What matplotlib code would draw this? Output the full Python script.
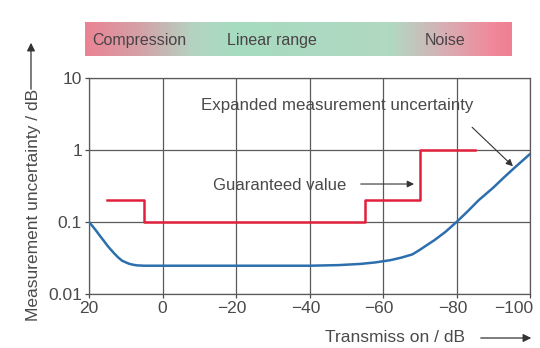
import numpy as np
import matplotlib
matplotlib.use("Agg")
import matplotlib.pyplot as plt
from matplotlib.colors import LinearSegmentedColormap
from matplotlib.transforms import ScaledTranslation

plt.rcParams['font.family'] = ['Liberation Sans', 'DejaVu Sans']

# expanded measurement uncertainty (blue)
trans_db = [20, 19, 18, 17, 16, 15, 14, 13, 12, 11, 10, 9, 8, 7, 5, 0, -20, -40, -48,
            -54, -58, -62, -65, -68, -70, -72, -74, -77, -80, -83, -86, -90, -93, -96, -100]
uncert_db = [0.1, 0.087, 0.075, 0.064, 0.055, 0.047, 0.041, 0.036, 0.032, 0.029, 0.0275,
             0.0262, 0.0255, 0.025, 0.0247, 0.0247, 0.0247, 0.0247, 0.0252,
             0.0262, 0.0275, 0.0295, 0.032, 0.0355, 0.041, 0.048, 0.056, 0.073, 0.1, 0.14,
             0.2, 0.3, 0.42, 0.58, 0.88]

# guaranteed value (red steps)
guar_x = [15, 5, -55, -70, -85]
guar_y = [0.2, 0.1, 0.2, 1.0, 1.0]

x_ticks = [20, 0, -20, -40, -60, -80, -100]
x_ticklabels = ['20', '0', '\u221220', '\u221240', '\u221260', '\u221280', '\u2212100']
y_ticks = [0.01, 0.1, 1, 10]
y_ticklabels = ['0.01', '0.1', '1', '10']

W, H = 540, 348
fig = plt.figure(figsize=(W / 100, H / 100), dpi=100)

# range bar on top
band = fig.add_axes([85 / W, 1 - 56 / H, 427 / W, 34 / H])
cmap = LinearSegmentedColormap.from_list('rng', [
    (0.0, '#ea8494'), (0.13, '#d3a2a8'), (0.25, '#b4d3c1'), (0.35, '#a6dcc0'),
    (0.72, '#b2d8c2'), (0.84, '#d6b0b4'), (0.95, '#ef8b9c'), (1.0, '#f07f93')])
band.imshow(np.linspace(0, 1, 300)[None, :], aspect='auto', cmap=cmap, extent=[0, 1, 0, 1])
band.set_axis_off()
for txt, xp in [('Compression', 92), ('Linear range', 227), ('Noise', 425)]:
    band.text((xp - 85) / 427, 0.46, txt, ha='left', va='center', fontsize=11.5, color='#4a4346')

ax = fig.add_axes([89 / W, 1 - 294 / H, 441 / W, 216 / H])
ax.set_yscale('log')
ax.set_xlim(20, -100)
ax.set_ylim(0.01, 10)
ax.set_xticks(x_ticks)
ax.set_xticklabels(x_ticklabels)
ax.set_yticks(y_ticks)
ax.set_yticklabels(y_ticklabels)
ax.yaxis.set_minor_locator(matplotlib.ticker.NullLocator())
ax.grid(True, color='#5a5a5a', lw=0.9)
for s in ax.spines.values():
    s.set_color('#5a5a5a')
    s.set_linewidth(0.9)
ax.tick_params(labelsize=12.5, colors='#4a4a4a', length=3, width=0.9, pad=2)

# nudge the negative labels left so the minus sign sits before the tick
xlabels = ax.get_xticklabels()
for lab in xlabels[2:-1]:
    lab.set_transform(lab.get_transform() + ScaledTranslation(-4 / 100, 0, fig.dpi_scale_trans))
xlabels[-1].set_horizontalalignment('right')
xlabels[-1].set_transform(xlabels[-1].get_transform()
                          + ScaledTranslation(3 / 100, 0, fig.dpi_scale_trans))

ax.plot(trans_db, uncert_db, color='#2d6fae', lw=1.8, zorder=3)
ax.plot(guar_x, guar_y, color='#e3203c', lw=1.8, drawstyle='steps-post', zorder=3)

ax.text(-10.5, 4.2, 'Expanded measurement uncertainty', fontsize=12.2, color='#4a4a4a',
        va='center', ha='left')
ax.annotate('', xy=(-95.9, 0.56), xytext=(-83.7, 2.2),
            arrowprops=dict(arrowstyle='-|>', color='#333333', lw=0.8, mutation_scale=10))
ax.text(-13.7, 0.32, 'Guaranteed value', fontsize=12, color='#4a4a4a', va='center', ha='left')
ax.annotate('', xy=(-69.2, 0.337), xytext=(-53.2, 0.337),
            arrowprops=dict(arrowstyle='-|>', color='#333333', lw=0.8, mutation_scale=10))

# axis titles with arrows
fig.text(34 / W, 1 - 205 / H, 'Measurement uncertainty / dB', rotation=90, ha='center',
         va='center', fontsize=12.5, color='#4a4a4a')
fig.text(395 / W, 1 - 338 / H, 'Transmiss on / dB', ha='center', va='center',
         fontsize=12.5, color='#4a4a4a')
fig.patches.append(matplotlib.patches.FancyArrowPatch(
    (31 / W, 1 - 92 / H), (31 / W, 1 - 40 / H), transform=fig.transFigure,
    arrowstyle='-|>', mutation_scale=12, color='#333333', lw=0.9))
fig.patches.append(matplotlib.patches.FancyArrowPatch(
    (478 / W, 1 - 338 / H), (534 / W, 1 - 338 / H), transform=fig.transFigure,
    arrowstyle='-|>', mutation_scale=12, color='#333333', lw=0.9))

fig.savefig('out.png', dpi=100)
